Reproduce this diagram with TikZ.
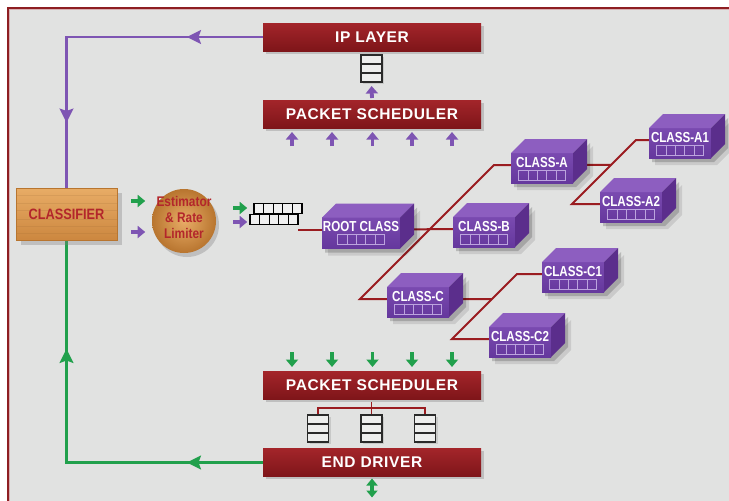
\documentclass[tikz,border=0pt]{standalone}
\usepackage{fontspec}
\setmainfont{Liberation Sans}
\newfontfamily\condsans[FakeStretch=0.85]{Liberation Sans}
\newfontfamily\boxfont[FakeStretch=0.8]{Liberation Sans}
\newfontfamily\barfont[LetterSpace=4]{Liberation Sans}
\usetikzlibrary{arrows.meta,decorations.markings,shadows,calc}

\definecolor{bggray}{HTML}{E1E2E1}
\definecolor{framered}{HTML}{8E1E22}
\definecolor{barhi}{HTML}{A3252A}
\definecolor{barlo}{HTML}{7E1519}
\definecolor{linkred}{HTML}{9A1C20}
\definecolor{plum}{HTML}{7E55B3}
\definecolor{leaf}{HTML}{21A04C}
\definecolor{boxfront}{HTML}{7A4AB0}
\definecolor{boxfrontlo}{HTML}{65389D}
\definecolor{boxtop}{HTML}{8D5EC0}
\definecolor{boxside}{HTML}{5B2E8C}
\definecolor{cellink}{HTML}{BCA4DE}
\definecolor{woodhi}{HTML}{E8AC66}
\definecolor{woodlo}{HTML}{CC873F}
\definecolor{woodrim}{HTML}{B8752F}
\definecolor{woodink}{HTML}{B3262B}
\definecolor{queueink}{HTML}{2A2A2A}

\pgfdeclarelayer{bg}
\pgfdeclarelayer{links}
\pgfsetlayers{bg,links,main}

% 3-D class box: name, left x, front top y, width, height, label
\newcommand\classbox[6]{%
  \fill[black, opacity=0.10, shift={(6,7)}] (#2,#3) -- ++(#4,0) -- ++(14,-14) -- ++(0,#5) -- ++(-14,14) -- ++(-#4,0) -- cycle;
  \fill[black, opacity=0.18, shift={(3,4)}] (#2,#3) -- ++(#4,0) -- ++(14,-14) -- ++(0,#5) -- ++(-14,14) -- ++(-#4,0) -- cycle;
  \node[boxfrontstyle, minimum width=#4pt, minimum height=#5pt, anchor=north west] (#1) at (#2,#3) {};
  \fill[boxtop] (#1.north west) -- ++(14,-14) -- ++(#4,0) -- (#1.north east) -- cycle;
  \fill[boxside] (#1.north east) -- ++(14,-14) -- ++(0,#5) -- (#1.south east) -- cycle;
  \node[boxlabel] (#1-t) at ($(#1.north)+(0,9.5)$) {#6};
  \node[cellrow] (#1-c) at ($(#1.north)+(0,22)$) {};
  \coordinate (#1-w) at ($(#1.north west)+(0,12)$);
  \coordinate (#1-e) at ($(#1.north east)+(0,12)$);
}

% stacked packet queue: name, centre x, centre y
\newcommand\vqueue[3]{%
  \node[vqueuestyle] (#1) at (#2,#3) {};
  \foreach \k in {1,2}
    \draw[queueink, line width=1.3pt] ($(#1.north west)!\k/3!(#1.south west)$) -- ($(#1.north east)!\k/3!(#1.south east)$);
}

\begin{document}
\begin{tikzpicture}[x=1pt, y=-1pt,
  redbar/.style={rectangle, inner sep=0pt, outer sep=0pt, minimum width=218pt, minimum height=28pt,
    top color=barhi, bottom color=barlo, text=white,
    font=\barfont\bfseries\fontsize{15.5}{16}\selectfont,
    drop shadow={shadow xshift=2.5pt, shadow yshift=-2.5pt, opacity=0.35}},
  boxfrontstyle/.style={rectangle, inner sep=0pt, outer sep=0pt, top color=boxfront, bottom color=boxfrontlo},
  boxlabel/.style={inner sep=0pt, text=white, font=\boxfont\bfseries\fontsize{14.5}{14.5}\selectfont},
  cellrow/.style={rectangle, inner sep=0pt, minimum width=47pt, minimum height=10pt, draw=cellink, line width=0.8pt,
    path picture={\foreach \f in {1,2,3,4}
      \draw[cellink, line width=0.8pt] ($(path picture bounding box.north west)!\f/5!(path picture bounding box.north east)$)
        -- ($(path picture bounding box.south west)!\f/5!(path picture bounding box.south east)$);}},
  vqueuestyle/.style={rectangle, inner sep=0pt, outer sep=0pt, minimum width=21pt, minimum height=27pt,
    draw=queueink, line width=1.3pt, fill=bggray!60!white,
    drop shadow={shadow xshift=2pt, shadow yshift=-2pt, opacity=0.25}},
  hqueuestyle/.style={rectangle, inner sep=0pt, outer sep=0pt, minimum width=48pt, minimum height=10.5pt,
    draw=black, line width=1.1pt, fill=bggray!50!white,
    path picture={\foreach \f in {1,2,3,4}
      \draw[black, line width=1.1pt] ($(path picture bounding box.north west)!\f/5!(path picture bounding box.north east)$)
        -- ($(path picture bounding box.south west)!\f/5!(path picture bounding box.south east)$);}},
  wood/.style={top color=woodhi, bottom color=woodlo, draw=woodrim, line width=0.4pt,
    drop shadow={shadow xshift=5pt, shadow yshift=-5pt, opacity=0.35}},
  blockarrow/.style={line width=3.8pt, -{Triangle[width=12pt,length=7.5pt]}},
  parrow/.style={blockarrow, draw=plum},
  garrow/.style={blockarrow, draw=leaf},
  link/.style={draw=linkred, line width=2pt},
  loopline/.style={line width=2.2pt}
]
\useasboundingbox (0,0) rectangle (729,501);

% page ground and frame
\begin{pgfonlayer}{bg}
  \fill[white] (0,0) rectangle (729,501);
  \fill[bggray] (7.5,7.5) rectangle (729,501);
  \fill[framered] (6.5,6.5) rectangle (729,8.5);
  \fill[framered] (6.5,6.5) rectangle (8.5,501);
  \fill[framered!35!white] (8.5,8.5) rectangle (729,9.1);
  \fill[framered!35!white] (8.5,8.5) rectangle (9.1,501);
\end{pgfonlayer}

% red layer bars
\node[redbar] (ip) at (372,37) {IP LAYER};
\node[redbar] (ps1) at (372,114) {PACKET SCHEDULER};
\node[redbar] (ps2) at (372,385.5) {PACKET SCHEDULER};
\node[redbar] (ed) at (372,462.5) {END DRIVER};

% queues
\vqueue{ipq}{371.5}{68.5}
\vqueue{q1}{318}{428.5}
\vqueue{q2}{371.5}{428.5}
\vqueue{q3}{425}{428.5}

% classifier and estimator
\node[wood, rectangle, minimum width=101pt, minimum height=52pt, inner sep=0pt,
  text=woodink, font=\condsans\bfseries\fontsize{15}{15}\selectfont,
  path picture={\foreach \f in {0.14,0.29,0.43,0.6,0.74,0.88}
    \draw[woodlo!70!black, opacity=0.15, line width=0.6pt] ($(path picture bounding box.north west)!\f!(path picture bounding box.south west)$)
      -- ($(path picture bounding box.north east)!\f!(path picture bounding box.south east)$);}]
  (cls) at (66.5,214) {CLASSIFIER};
\node[circle, minimum size=64pt, inner sep=0pt, inner color=woodhi, outer color=woodrim,
  drop shadow={shadow xshift=3pt, shadow yshift=-4pt, opacity=0.35}] (est) at (184,221) {};
\node[align=center, text=woodink, font=\condsans\bfseries\fontsize{14}{16}\selectfont, inner sep=0pt] (est-t) at (184,217)
  {Estimator\\\& Rate\\Limiter};

% packet queue in front of the class tree
\node[hqueuestyle] (hq1) at (278,208.5) {};
\node[hqueuestyle] (hq2) at (274,219.6) {};

% class tree
\classbox{root}{322}{217.5}{78}{31}{ROOT CLASS}
\classbox{cla}{511}{153}{62}{30}{CLASS-A}
\classbox{clb}{453}{217}{62}{30}{CLASS-B}
\classbox{clc}{387}{287}{62}{30}{CLASS-C}
\classbox{cla1}{649}{128}{62}{30}{CLASS-A1}
\classbox{cla2}{600}{192}{62}{30}{CLASS-A2}
\classbox{clc1}{542}{262}{62}{30}{CLASS-C1}
\classbox{clc2}{489}{327}{62}{30}{CLASS-C2}

\begin{pgfonlayer}{links}
  % tree links
  \draw[link] (root-w) -- (root-w -| hq2.east);
  \draw[link] (root-e) -- (clb-w);
  \draw[link] (clc-w) -- ++(-27,0) coordinate (j1) -- ($(cla-w)+(-17,0)$) coordinate (j2) -- (cla-w);
  \draw[link] (cla2-w) -- ++(-28,0) coordinate (ja1) -- coordinate[pos=0.61] (jam) ($(cla1-w)+(-13,0)$) -- (cla1-w);
  \draw[link] (cla-e) -- (jam);
  \draw[link] (clc2-w) -- ++(-37,0) coordinate (jc1) -- coordinate[pos=0.615] (jcm) ($(clc1-w)+(-25,0)$) -- (clc1-w);
  \draw[link] (clc-e) -- (jcm);

  % outer loops
  \draw[loopline, draw=plum, postaction={decorate}, decoration={markings,
      mark=at position 76pt with {\arrow[plum]{Stealth[length=14pt,width=14pt,inset=2.5pt]}},
      mark=at position 282pt with {\arrow[plum]{Stealth[length=14pt,width=14pt,inset=2.5pt]}}}]
    (ip.west) -| (cls.north);
  \draw[loopline, draw=leaf, postaction={decorate}, decoration={markings,
      mark=at position 76pt with {\arrow[leaf]{Stealth[length=14pt,width=14pt,inset=2.5pt]}},
      mark=at position 310pt with {\arrow[leaf]{Stealth[length=14pt,width=14pt,inset=2.5pt]}}}]
    (ed.west) -| (cls.south);
\end{pgfonlayer}

% bracket from the lower scheduler to its queues
\draw[link, line width=1.6pt] ([yshift=1.5pt]q1.north) |- ([yshift=7pt]q3.north) -- ([yshift=1.5pt]q3.north);
\draw[link, line width=1.6pt] ([yshift=13pt]q2.north) -- ([yshift=1.5pt]q2.north);

% flow arrows
\draw[parrow, shorten >=4pt, shorten <=2pt] (ps1.north) -- (ipq.south);
\foreach \i/\x in {1/292,2/332,3/372.5,4/412,5/452}{
  \coordinate (pu\i) at (\x,146);
  \draw[parrow, shorten >=4pt] (pu\i) -- (pu\i |- ps1.south);
  \coordinate (gd\i) at (\x,352);
  \draw[garrow, shorten >=4.5pt] (gd\i) -- (gd\i |- ps2.north);
}
\draw[garrow] ([xshift=14pt,yshift=13pt]cls.east) -- ++(14,0);
\draw[parrow] ([xshift=14pt,yshift=-18pt]cls.east) -- ++(14,0);
\draw[garrow] ([xshift=17pt,yshift=13pt]est.east) -- ++(14,0);
\draw[parrow] ([xshift=17pt,yshift=-1pt]est.east) -- ++(14,0);
\draw[line width=3.6pt, draw=leaf, {Triangle[width=11pt,length=7pt]}-{Triangle[width=11pt,length=7pt]}]
  ([yshift=-2pt]ed.south) -- ([yshift=-21pt]ed.south);
\end{tikzpicture}
\end{document}
